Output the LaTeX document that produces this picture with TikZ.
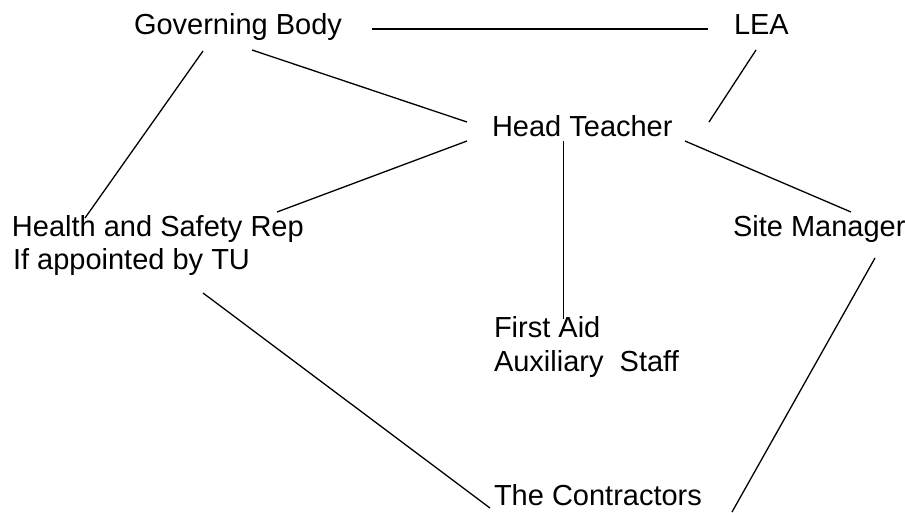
\documentclass[tikz,border=0pt]{standalone}
\usepackage{fontspec}
\setmainfont{Liberation Sans}
\begin{document}
\begin{tikzpicture}[x=1pt,y=-1pt,
  lbl/.style={anchor=base west,inner sep=0pt,outer sep=0pt,font=\fontsize{29}{34}\selectfont},
  conn/.style={line width=1.3pt,black}]
\useasboundingbox (0,0) rectangle (905,512);
% texts
\node[lbl] (gb)   at (134,34.5) {Governing Body};
\node[lbl] (lea)  at (734,34.5) {LEA};
\node[lbl] (ht)   at (492,136) {Head Teacher};
\node[lbl] (hs)   at (12,236.5) {Health and Safety Rep};
\node[lbl] (hs2)  at (13,269) {If appointed by TU};
\node[lbl] (sm)   at (733,236.5) {Site Manager};
\node[lbl] (fa)   at (494,337) {First Aid};
\node[lbl] (fa2)  at (494,371.5) {Auxiliary\ \ Staff};
\node[lbl] (tc)   at (494,505.5) {The Contractors};
% connector end points
\coordinate (gbR) at (372,29);
\coordinate (leaL) at (708,29);
\coordinate (gbB1) at (203,51);
\coordinate (gbB2) at (252,50);
\coordinate (leaB) at (756,50);
\coordinate (htL) at (467,122);
\coordinate (htR) at (709,122);
\coordinate (htBL) at (467,141);
\coordinate (htB) at (563.5,141);
\coordinate (htBR) at (685,141);
\coordinate (hsT) at (85,218);
\coordinate (hsTR) at (277,212);
\coordinate (hsB) at (203,293);
\coordinate (smT) at (851,212);
\coordinate (smB) at (875,258);
\coordinate (faT) at (563.5,319);
\coordinate (tcL) at (490,508);
\coordinate (tcR) at (732,512);
% connectors
\draw[conn] (gbR) -- (leaL);
\draw[conn] (gbB1) -- (hsT);
\draw[conn] (gbB2) -- (htL);
\draw[conn] (leaB) -- (htR);
\draw[conn] (htBL) -- (hsTR);
\draw[conn] (htB) -- (faT);
\draw[conn] (htBR) -- (smT);
\draw[conn] (hsB) -- (tcL);
\draw[conn] (smB) -- (tcR);
\end{tikzpicture}
\end{document}
